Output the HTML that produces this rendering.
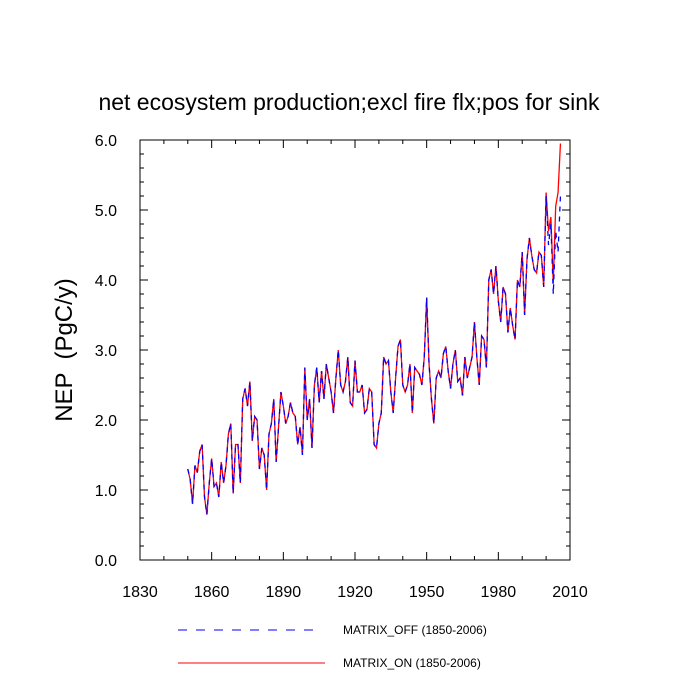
<!DOCTYPE html>
<html><head><meta charset="utf-8"><style>
body{margin:0;background:#fff;}
svg{display:block;font-family:"Liberation Sans",sans-serif;}
</style></head><body>
<svg id="chart" width="700" height="700">
<text x="349" y="110" font-size="23" text-anchor="middle">net ecosystem production;excl fire flx;pos for sink</text>
<text transform="translate(72,350) rotate(-90)" font-size="24" text-anchor="middle" xml:space="preserve">NEP  (PgC/y)</text>
<rect x="140" y="140" width="430" height="420" fill="none" stroke="#000" stroke-width="1"/>
<g id="ticks"></g>
<g id="series"></g>
<g>
<line x1="178" y1="630" x2="318" y2="630" stroke="#00f" stroke-width="1" stroke-dasharray="9,9"/>
<text x="343" y="634" font-size="12">MATRIX_OFF (1850-2006)</text>
<line x1="178" y1="663" x2="325" y2="663" stroke="#f00" stroke-width="1"/>
<text x="343" y="667" font-size="12">MATRIX_ON (1850-2006)</text>
</g>
</svg>
<script>
const xTicks=[1830,1860,1890,1920,1950,1980,2010];
const yTicks=[0,1,2,3,4,5,6];
const yTickLabels=["0.0","1.0","2.0","3.0","4.0","5.0","6.0"];
const startYear=1850;
const matrixOn=[1.3,1.15,0.8,1.35,1.25,1.55,1.65,0.9,0.65,1.1,
1.45,1.05,1.1,0.9,1.4,1.1,1.35,1.8,1.95,0.95,
1.65,1.65,1.1,2.3,2.45,2.2,2.55,1.7,2.05,2.0,
1.3,1.6,1.5,1.0,1.8,1.95,2.3,1.4,1.9,2.4,
2.2,1.95,2.05,2.25,2.1,2.05,1.65,1.9,1.5,2.75,
2.0,2.3,1.6,2.5,2.75,2.25,2.7,2.3,2.8,2.6,
2.4,2.1,2.6,3.0,2.5,2.4,2.55,2.9,2.25,2.2,
2.85,2.4,2.4,2.5,2.1,2.15,2.45,2.4,1.65,1.6,
1.95,2.1,2.9,2.8,2.85,2.4,2.1,2.6,3.05,3.15,
2.5,2.4,2.5,2.8,2.1,2.75,2.7,2.65,2.5,2.9,
3.75,2.8,2.3,1.95,2.6,2.7,2.6,2.95,3.05,2.7,
2.45,2.8,3.0,2.55,2.6,2.35,2.9,2.6,2.75,2.9,
3.4,2.9,2.5,3.2,3.15,2.75,4.0,4.15,3.8,4.2,
3.7,3.4,3.9,3.8,3.25,3.6,3.35,3.15,4.0,3.9,
4.4,3.5,4.3,4.6,4.35,4.15,4.1,4.4,4.35,3.9,
5.25,4.7,4.9,3.95,5.05,5.25,5.95];
const matrixOff=matrixOn.slice(0,150).concat([5.2,4.5,4.8,3.8,4.7,4.4,5.2]);
const X0=140,X1=570,Y0=560,Y1=140;
function sx(v){return X0+(v-1830)/(2010-1830)*(X1-X0);}
function sy(v){return Y0-(v-0)/(6-0)*(Y0-Y1);}
const NS="http://www.w3.org/2000/svg";
const tg=document.getElementById('ticks');
function ln(x1,y1,x2,y2,name){const l=document.createElementNS(NS,'line');l.setAttribute('x1',x1);l.setAttribute('y1',y1);l.setAttribute('x2',x2);l.setAttribute('y2',y2);l.setAttribute('stroke','#000');


tg.appendChild(l);}
function tx(x,y,s,anchor,name){const t=document.createElementNS(NS,'text');t.setAttribute('x',x);t.setAttribute('y',y);t.setAttribute('font-size','16');t.setAttribute('text-anchor',anchor);t.textContent=s;


tg.appendChild(t);}
for(let yr=1830;yr<=2010;yr+=10){const x=sx(yr);const major=(yr-1830)%30===0;const L=major?8:4;ln(x,Y0,x,Y0-L,'x-tick');ln(x,Y1,x,Y1+L,'x-tick-top');}
xTicks.forEach(v=>{tx(sx(v),597,String(v),'middle','x-tick-label');});
for(let i=0;i<=30;i++){const v=i*0.2;const y=sy(v);const major=i%5===0;const L=major?8:4;ln(X0,y,X0+L,y,'y-tick');ln(X1,y,X1-L,y,'y-tick-right');}
yTicks.forEach((v,i)=>{tx(117,sy(v)+6,yTickLabels[i],'end','y-tick-label');});
const sg=document.getElementById('series');
function path(arr,color,dash,name){const p=document.createElementNS(NS,'path');let d='';arr.forEach((v,i)=>{d+=(i?'L':'M')+sx(startYear+i).toFixed(2)+','+sy(v).toFixed(2);});p.setAttribute('d',d);p.setAttribute('fill','none');p.setAttribute('stroke',color);p.setAttribute('stroke-width','1.3');if(dash)p.setAttribute('stroke-dasharray',dash);


sg.appendChild(p);}
path(matrixOn,'#f00',null,'line-matrix-on');
path(matrixOff,'#00f','5,5','line-matrix-off');
</script>
</body></html>
